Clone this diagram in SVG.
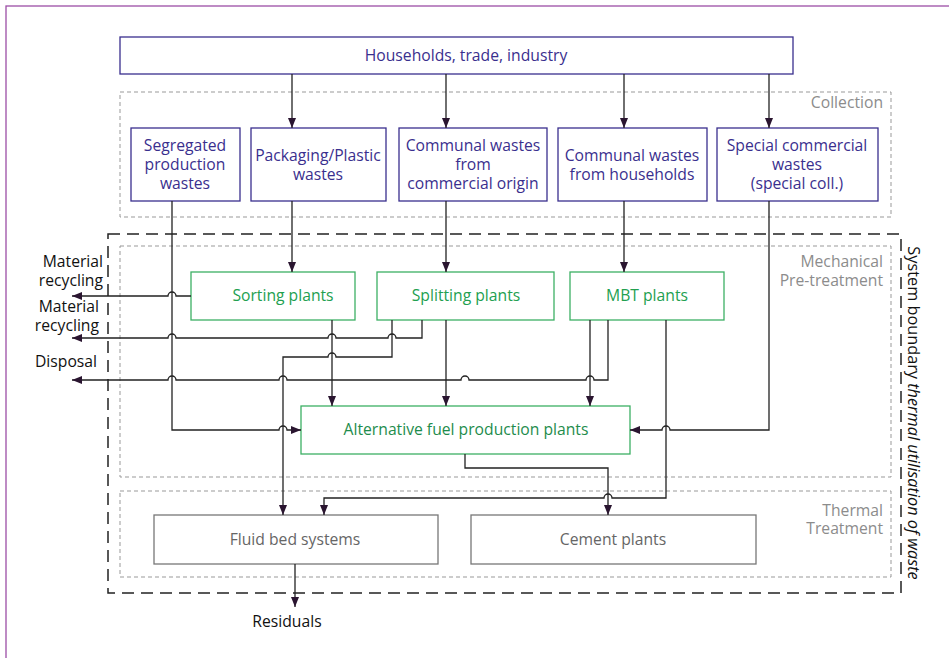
<svg xmlns="http://www.w3.org/2000/svg" width="949" height="658" viewBox="0 0 949 658">
<defs>
<marker id="ah" markerUnits="userSpaceOnUse" viewBox="0 0 10 8" refX="10" refY="4" markerWidth="10" markerHeight="8" orient="auto">
<path d="M0,0 L10,4 L0,8 Z" fill="#2a1530"/>
</marker>
<style>
text{font-family:"Open Sans","Noto Sans","Liberation Sans",sans-serif;font-size:15.7px}
.blue rect{fill:#fff;stroke:#3a2f8e;stroke-width:1.3}
.blue text{fill:#3a2f8e;text-anchor:middle}
.green rect{fill:#fff;stroke:#3cb064;stroke-width:1.3}
.green text{fill:#22a050;text-anchor:middle}
.grey rect{fill:#fff;stroke:#777;stroke-width:1.3}
.grey text{fill:#666;text-anchor:middle}
.zone{fill:none;stroke:#999;stroke-width:1;stroke-dasharray:4 3}
.zlabel{fill:#8c8c8c;text-anchor:end}
.lbl{fill:#111;text-anchor:end}
#connectors path{fill:none;stroke:#222;stroke-width:1.3}
.arr{marker-end:url(#ah)}
</style>
</defs>
<rect x="6" y="6" width="970" height="700" fill="#fff" stroke="#9c4ea6" stroke-width="1.3"/>

<g id="zones">
<rect class="zone" x="120" y="92" width="771" height="125"/>
<text class="zlabel" x="883" y="108">Collection</text>
<rect class="zone" x="120" y="246" width="771" height="231"/>
<text class="zlabel" x="883" y="267">Mechanical</text>
<text class="zlabel" x="883" y="286">Pre-treatment</text>
<rect class="zone" x="120" y="491" width="771" height="86"/>
<text class="zlabel" x="883" y="516">Thermal</text>
<text class="zlabel" x="883" y="534">Treatment</text>
<rect x="108" y="234" width="793" height="359" fill="none" stroke="#222" stroke-width="1.5" stroke-dasharray="12 7"/>
<text transform="translate(908,413) rotate(90)" text-anchor="middle" fill="#111" style="font-size:16.3px">System boundary <tspan font-style="italic">thermal utilisation of waste</tspan></text>
</g>

<g id="households" class="blue">
<rect x="120" y="37" width="673" height="37"/>
<text x="466" y="61">Households, trade, industry</text>
</g>
<g id="segregated" class="blue">
<rect x="131" y="128" width="109" height="73"/>
<text x="185" y="151">Segregated</text>
<text x="185" y="170">production</text>
<text x="185" y="189">wastes</text>
</g>
<g id="packaging" class="blue">
<rect x="251" y="128" width="135" height="73"/>
<text x="318" y="161">Packaging/Plastic</text>
<text x="318" y="180">wastes</text>
</g>
<g id="communal-commercial" class="blue">
<rect x="399" y="128" width="148" height="73"/>
<text x="473" y="151">Communal wastes</text>
<text x="473" y="170">from</text>
<text x="473" y="189">commercial origin</text>
</g>
<g id="communal-households" class="blue">
<rect x="558" y="128" width="149" height="73"/>
<text x="632" y="161">Communal wastes</text>
<text x="632" y="180">from households</text>
</g>
<g id="special" class="blue">
<rect x="717" y="128" width="161" height="73"/>
<text x="797" y="151">Special commercial</text>
<text x="797" y="170">wastes</text>
<text x="797" y="189">(special coll.)</text>
</g>

<g id="sorting" class="green">
<rect x="191" y="272" width="164" height="48"/>
<text x="283" y="301">Sorting plants</text>
</g>
<g id="splitting" class="green">
<rect x="377" y="272" width="177" height="48"/>
<text x="466" y="301">Splitting plants</text>
</g>
<g id="mbt" class="green">
<rect x="570" y="272" width="154" height="48"/>
<text x="647" y="301">MBT plants</text>
</g>
<g id="altfuel" class="green">
<rect x="301" y="406" width="329" height="48"/>
<text x="466" y="435" style="fill:#1e8c4c">Alternative fuel production plants</text>
</g>

<g id="fluidbed" class="grey">
<rect x="154" y="515" width="284" height="49"/>
<text x="295" y="545">Fluid bed systems</text>
</g>
<g id="cement" class="grey">
<rect x="471" y="515" width="285" height="49"/>
<text x="613" y="545">Cement plants</text>
</g>

<g id="outputs">
<text class="lbl" x="103" y="267">Material</text>
<text class="lbl" x="103" y="286">recycling</text>
<text class="lbl" x="99" y="312">Material</text>
<text class="lbl" x="99" y="331">recycling</text>
<text class="lbl" x="97" y="367">Disposal</text>
<text x="287" y="627" fill="#111" text-anchor="middle">Residuals</text>
</g>

<g id="connectors">
<path class="arr" d="M292 74 V128"/>
<path class="arr" d="M446 74 V128"/>
<path class="arr" d="M624 74 V128"/>
<path class="arr" d="M769 74 V128"/>
<path class="arr" d="M292 201 V272"/>
<path class="arr" d="M446 201 V272"/>
<path class="arr" d="M624 201 V272"/>
<path class="arr" d="M191 296 H176 A4 4 0 0 0 168 296 H72"/>
<path class="arr" d="M172 201 V430 H279 A4 4 0 0 1 287 430 H301"/>
<path class="arr" d="M422 320 V338 H396 A4 4 0 0 0 388 338 H336 A4 4 0 0 0 328 338 H176 A4 4 0 0 0 168 338 H72"/>
<path class="arr" d="M392 320 V357 H336 A4 4 0 0 0 328 357 H283 V515"/>
<path class="arr" d="M332 320 V406"/>
<path class="arr" d="M446 320 V406"/>
<path class="arr" d="M590 320 V406"/>
<path class="arr" d="M608 320 V380 H594 A4 4 0 0 0 586 380 H469 A4 4 0 0 0 461 380 H287 A4 4 0 0 0 279 380 H176 A4 4 0 0 0 168 380 H72"/>
<path class="arr" d="M666 320 V498 H612 A4 4 0 0 0 604 498 H324 V515"/>
<path class="arr" d="M769 201 V430 H670 A4 4 0 0 0 662 430 H630"/>
<path class="arr" d="M465 454 V468 H608 V515"/>
<path class="arr" d="M295 564 V607"/>
</g>
</svg>
